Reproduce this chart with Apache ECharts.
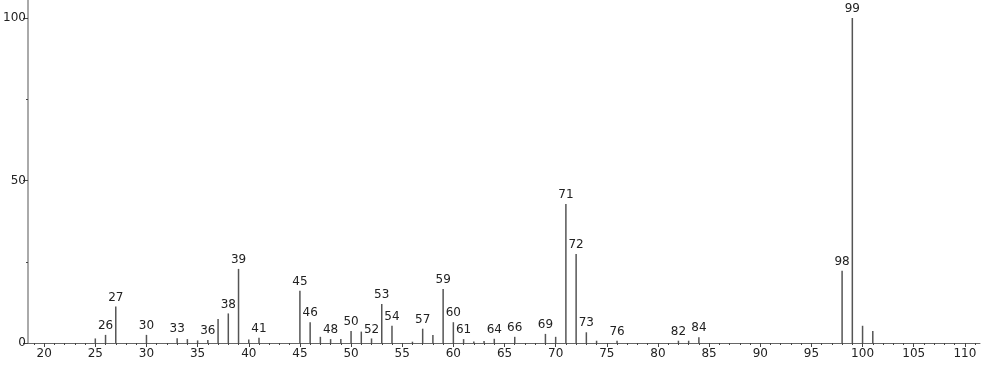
<!DOCTYPE html>
<html>
<head>
<meta charset="utf-8">
<script src="https://cdn.jsdelivr.net/npm/echarts@6/dist/echarts.min.js"></script>
<style>html,body{margin:0;padding:0;background:#fff}#c{width:982px;height:365px}</style>
</head>
<body>
<div id="c"></div>
<script>
const mz = [25,26,27,30,33,34,35,36,37,38,39,40,41,45,46,47,48,49,50,51,52,53,54,56,57,58,59,60,61,62,63,64,66,69,70,71,72,73,74,76,82,83,84,98,99,100,101];
const intensity = [1.4,2.5,11.2,2.5,1.5,1.2,0.8,0.9,7.4,9.1,22.8,1.1,1.6,16.1,6.4,1.9,1.2,1.2,3.7,3.5,1.4,12.0,5.3,0.4,4.4,2.5,16.6,6.4,1.2,0.5,0.6,1.3,1.9,2.8,1.9,42.8,27.4,3.3,0.7,0.7,0.7,0.7,1.8,22.2,100,5.3,3.7];
const labeled = [26,27,30,33,36,38,39,41,45,46,48,50,52,53,54,57,59,60,61,64,66,69,71,72,73,76,82,84,98,99];
const xLabelTicks = [20,25,30,35,40,45,50,55,60,65,70,75,80,85,90,95,100,105,110];
const xMinorTicks = [];
for (let v = 19; v <= 111; v++) xMinorTicks.push(v);
const yLabelTicks = [0,50,100];
const yMinorTicks = [25,75];

const FONT = 'DejaVu Sans';
const chart = echarts.init(document.getElementById('c'), null, {renderer: 'canvas'});
const data = mz.map((m, i) => ({
  value: [m, intensity[i]],
  label: {show: labeled.includes(m)}
}));
const xmin = 18.42, xmax = 111.48, ymax = 105.54;
chart.setOption({
  animation: false,
  grid: {left: 28, right: 2, top: 0, bottom: 22},
  xAxis: [{
    type: 'value', min: xmin, max: xmax, position: 'bottom',
    splitLine: {show: false},
    axisLine: {show: true, lineStyle: {color: '#666', width: 1}},
    axisTick: {show: true, customValues: xLabelTicks, length: 4, lineStyle: {color: '#444'}},
    axisLabel: {customValues: xLabelTicks, color: '#222', fontFamily: FONT, fontSize: 12, margin: 5}
  }, {
    type: 'value', min: xmin, max: xmax, position: 'bottom', offset: 0,
    splitLine: {show: false},
    axisLine: {show: false},
    axisTick: {show: true, customValues: xMinorTicks, length: 2, lineStyle: {color: '#444'}},
    axisLabel: {show: false}
  }],
  yAxis: [{
    type: 'value', min: 0, max: ymax,
    splitLine: {show: false},
    axisLine: {show: true, lineStyle: {color: '#aaa', width: 2}},
    axisTick: {show: true, customValues: yLabelTicks, length: 5, lineStyle: {color: '#444'}},
    axisLabel: {customValues: yLabelTicks, color: '#222', fontFamily: FONT, fontSize: 12, margin: 2}
  }, {
    type: 'value', min: 0, max: ymax, position: 'left', offset: 0,
    splitLine: {show: false},
    axisLine: {show: false},
    axisTick: {show: true, customValues: yMinorTicks, length: 2, lineStyle: {color: '#444'}},
    axisLabel: {show: false}
  }],
  series: [{
    type: 'bar',
    xAxisIndex: 0, yAxisIndex: 0,
    barWidth: 1.5,
    itemStyle: {color: '#555'},
    label: {position: 'top', distance: 3, color: '#222', fontFamily: FONT, fontSize: 12,
      formatter: p => String(p.value[0])},
    data: data
  }]
});
</script>
</body>
</html>
